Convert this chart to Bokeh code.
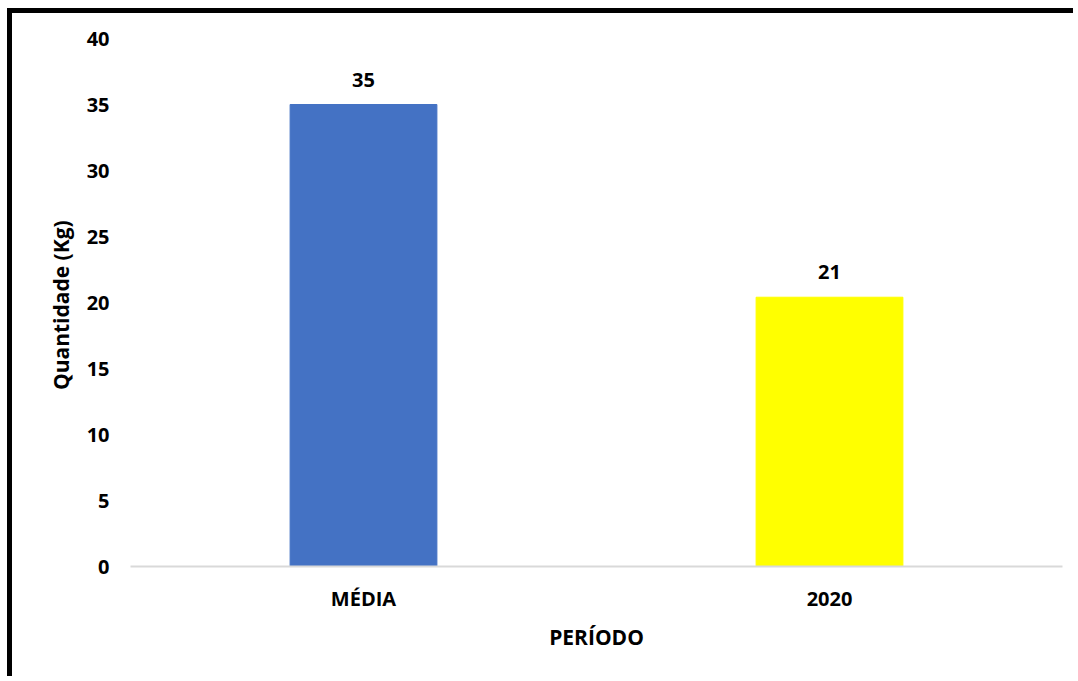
from bokeh.plotting import figure
from bokeh.models import ColumnDataSource, LabelSet, Range1d, FactorRange
from bokeh.core.properties import value
from bokeh.embed import file_html
from bokeh.resources import INLINE

categories = ["MÉDIA", "2020"]
values = [35, 20.4]
value_labels = ["35", "21"]
bar_colors = ["#4472C4", "#FFFF00"]
y_ticks = [0, 5, 10, 15, 20, 25, 30, 35, 40]

FONT = "Open Sans"
source = ColumnDataSource(dict(cat=categories, val=values, lab=value_labels, col=bar_colors))

p = figure(x_range=FactorRange(*categories), y_range=Range1d(0, 40),
           width=1066, height=668, output_backend="svg", toolbar_location=None,
           min_border_left=118, min_border_right=16, min_border_top=25, min_border_bottom=115,
           styles={"border-left": "5px solid black", "border-top": "5px solid black",
                   "margin-left": "7px", "margin-top": "8px"})
p.x_range.range_padding = 0
p.x_range.factor_padding = 0

p.vbar(x="cat", top="val", width=0.315, color="col", source=source)

labels = LabelSet(x="cat", y="val", text="lab", source=source, text_align="center",
                  text_baseline="middle", y_offset=25, text_font=value(FONT),
                  text_font_style="bold", text_font_size="20px", text_color="#000000")
p.add_layout(labels)

p.outline_line_color = None
p.xgrid.grid_line_color = None
p.ygrid.grid_line_color = None

p.yaxis.ticker = y_ticks
p.yaxis.axis_line_color = None
p.yaxis.major_tick_line_color = None
p.yaxis.minor_tick_line_color = None
p.yaxis.major_label_standoff = 15
p.yaxis.axis_label = "Quantidade  (Kg)"
p.yaxis.axis_label_standoff = 9

p.xaxis.axis_line_color = "#D9D9D9"
p.xaxis.axis_line_width = 2
p.xaxis.major_tick_line_color = None
p.xaxis.minor_tick_line_color = None
p.xaxis.major_label_standoff = 12
p.xaxis.axis_label = "PERÍODO"
p.xaxis.axis_label_standoff = 8

for ax in (p.xaxis, p.yaxis):
    ax.major_label_text_font = FONT
    ax.major_label_text_font_style = "bold"
    ax.major_label_text_font_size = "20px"
    ax.major_label_text_color = "#000000"
    ax.axis_label_text_font = FONT
    ax.axis_label_text_font_style = "bold"
    ax.axis_label_text_font_size = "21px"
    ax.axis_label_text_color = "#000000"

open("out.html", "w").write(file_html(p, INLINE))
